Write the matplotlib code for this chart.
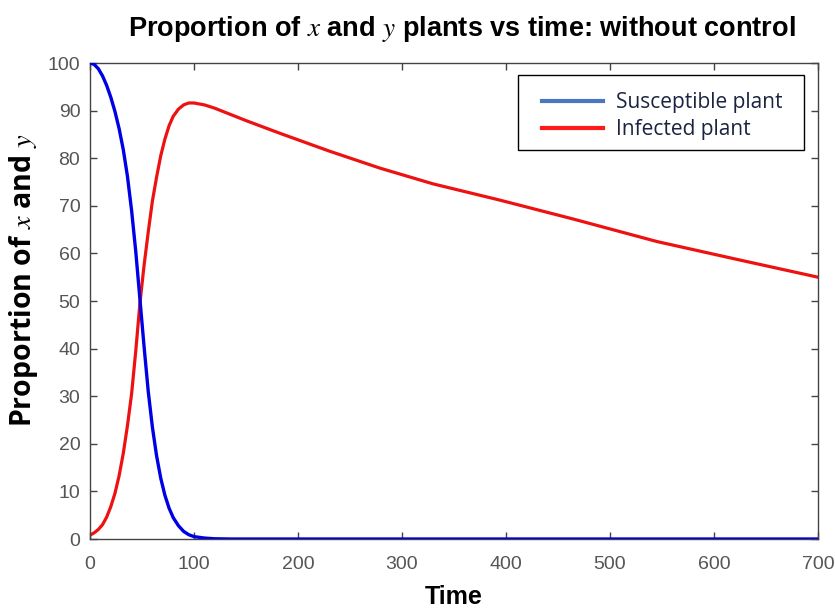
import matplotlib
matplotlib.use("Agg")
import matplotlib.pyplot as plt
from matplotlib.lines import Line2D
from matplotlib.patches import Rectangle

# values
time_s = [0, 4, 8, 12, 16, 20, 24, 28, 32, 36, 40, 44, 48, 52, 56, 60, 64, 68, 72, 76, 80,
          85, 90, 95, 100, 110, 120, 135, 700]
susceptible = [100, 99.7, 98.8, 97.3, 95.3, 92.8, 89.8, 86.2, 81.8, 76.2, 69, 60.4, 50.4, 40.4,
               31, 23.5, 17.5, 12.8, 9.2, 6.5, 4.5, 2.8, 1.6, 0.9, 0.5, 0.2, 0.05, 0, 0]

time_i = [0, 4, 8, 12, 16, 20, 24, 28, 32, 36, 40, 44, 48, 52, 56, 60, 64, 68, 72, 76, 80,
          85, 90, 95, 100, 110, 120, 150, 183, 230, 279, 330, 394, 465, 545, 625, 700]
infected = [0.8, 1.3, 2.0, 3.0, 4.6, 6.8, 9.6, 13.3, 18, 23.8, 30.5, 39.5, 49.5, 57.5, 64.5,
            71, 76, 80.5, 84, 86.8, 88.8, 90.3, 91.2, 91.6, 91.6, 91.2, 90.5, 87.9, 85.2, 81.5,
            77.9, 74.6, 71.2, 67.2, 62.5, 58.6, 55]

x_ticks = [0, 100, 200, 300, 400, 500, 600, 700]
y_ticks = [0, 10, 20, 30, 40, 50, 60, 70, 80, 90, 100]
legend_labels = ["Susceptible plant", "Infected plant"]

plt.rcParams["mathtext.fontset"] = "stix"
plt.rcParams["font.family"] = ["Liberation Sans", "DejaVu Sans"]

fig = plt.figure(figsize=(8.35, 6.1), dpi=100)
ax = fig.add_axes([90 / 835, 71 / 610, 728 / 835, 476 / 610])

ax.plot(time_s, susceptible, color="#0000e6", lw=2.4, zorder=3)
ax.plot(time_i, infected, color="#ee1111", lw=2.3, zorder=2)

ax.set_xlim(0, 700)
ax.set_ylim(0, 100)
ax.set_xticks(x_ticks)
ax.set_yticks(y_ticks)
ax.tick_params(direction="in", top=True, right=True, length=5, width=1,
               colors="#444444", labelcolor="#555555", labelsize=14, pad=7)
ax.tick_params(axis="x", pad=12)
for s in ax.spines.values():
    s.set_color("#444444")
    s.set_linewidth(1.0)

fig.text(0.553, 0.953, "Proportion of $x$ and $y$ plants vs time: without control",
         ha="center", va="center", fontsize=19.5, fontweight="bold")
ax.set_xlabel("Time", fontsize=18, fontweight="bold", labelpad=9)
ax.set_ylabel("Proportion of $x$ and $y$", fontsize=20.5, fontweight="bold",
              family=["Open Sans", "DejaVu Sans"])
ax.yaxis.set_label_coords(-0.069, 0.544)

# legend box drawn on its own, entries placed inside it
ax.add_patch(Rectangle((0.588, 0.817), 0.393, 0.158, transform=ax.transAxes,
                       facecolor="white", edgecolor="black", lw=1.0, zorder=4))
handles = [Line2D([], [], color="#4a78c0", lw=3), Line2D([], [], color="#ff1a1a", lw=3)]
leg = ax.legend(handles, legend_labels, loc="upper left", bbox_to_anchor=(0.621, 0.939),
                borderaxespad=0, frameon=False, borderpad=0,
                prop={"family": "Open Sans", "size": 15}, handlelength=2.9,
                handletextpad=0.65, labelspacing=0.3)
leg.set_zorder(5)
for t in leg.get_texts():
    t.set_color("#1a2440")

fig.savefig("out.png", dpi=100)
